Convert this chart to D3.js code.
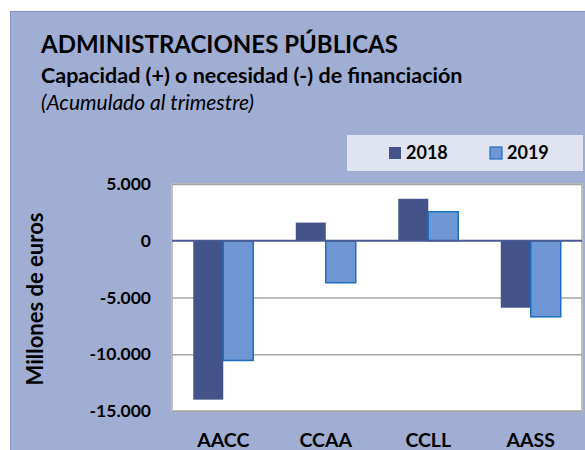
<!DOCTYPE html>
<html>
<head>
<meta charset="utf-8">
<script src="https://cdn.jsdelivr.net/npm/d3@7"></script>
<style>
  body { margin: 0; background: #ffffff; }
  svg { display: block; font-family: Lato, "Noto Sans", sans-serif; }
</style>
</head>
<body>
<svg id="chart" width="585" height="450"></svg>
<script>
// --------------------------------------------------------------------------------------
// data
// --------------------------------------------------------------------------------------
var categories = ["AACC", "CCAA", "CCLL", "AASS"];
var series_names = ["2018", "2019"];
var values_2018 = [-14000, 1600, 3700, -5900];
var values_2019 = [-10550, -3700, 2550, -6700];
var y_ticks = [5000, 0, -5000, -10000, -15000];
var y_tick_labels = ["5.000", "0", "-5.000", "-10.000", "-15.000"];

var title = "ADMINISTRACIONES PÚBLICAS";
var subtitle = "Capacidad (+) o necesidad (-) de financiación";
var note = "(Acumulado al trimestre)";
var y_title = "Millones de euros";

var colors = ["#44548a", "#6f97d4"];
// --------------------------------------------------------------------------------------

var svg = d3.select("#chart");

// outer frame
svg.append("rect")
   .attr("x", 10.5)
   .attr("y", 11.5)
   .attr("width", 590)
   .attr("height", 450)
   .style("fill", "#a0aed4")
   .style("stroke", "#8292c6")
   .style("stroke-width", 1);

// ==================================================
// titles
svg.append("text")
   .attr("x", 41)
   .attr("y", 53)
   .style("font-size", "24px")
   .style("font-weight", "bold")
   .style("fill", "#000")
   .text(title);

svg.append("text")
   .attr("x", 41)
   .attr("y", 83)
   .style("font-size", "21.5px")
   .style("font-weight", "bold")
   .style("fill", "#000")
   .text(subtitle);

svg.append("text")
   .attr("x", 41)
   .attr("y", 110)
   .style("font-size", "21px")
   .style("font-style", "italic")
   .style("fill", "#000")
   .text(note);

// ==================================================
// plot area
var margin = {top: 184, left: 172, right: 3, bottom: 39};
var width = 585 - margin.left - margin.right;
var height = 450 - margin.top - margin.bottom;

var x0 = d3.scaleBand()
           .domain(categories)
           .range([0, width])
           .paddingInner(0.415)
           .paddingOuter(0.2075);

var x1 = d3.scaleBand()
           .domain(series_names)
           .range([0, x0.bandwidth()])
           .padding(0);

var y = d3.scaleLinear()
          .domain([-15000, 5000])
          .range([height, 0]);

var g = svg.append("g")
           .attr("transform", "translate(" + margin.left + "," + margin.top + ")");

g.append("rect")
 .attr("x", 0)
 .attr("y", 0)
 .attr("width", width)
 .attr("height", height)
 .style("fill", "#ffffff")
 .style("stroke", "#bfbfbf")
 .style("stroke-width", 2);

// gridlines
g.append("g")
 .attr("class", "grid")
 .call(d3.axisLeft(y).tickValues(y_ticks.filter(function(d) { return d != 0; }))
         .tickSize(-width).tickFormat(""))
 .call(function(s) { s.select(".domain").remove(); })
 .selectAll("line")
 .style("stroke", "#a6a6a6")
 .style("stroke-width", 1.3);

// bars
var rows = categories.map(function(c, i) {
  return {cat: c, vals: [values_2018[i], values_2019[i]]};
});

var groups = g.selectAll(".bar")
              .data(rows)
              .enter()
              .append("g")
              .attr("class", "bar")
              .attr("transform", function(d) { return "translate(" + x0(d.cat) + ",0)"; });

groups.selectAll("rect")
      .data(function(d) { return d.vals.map(function(v, i) { return {s: series_names[i], v: v, i: i}; }); })
      .enter()
      .append("rect")
      .attr("x", function(d) { return x1(d.s); })
      .attr("width", x1.bandwidth())
      .attr("y", function(d) { return y(Math.max(0, d.v)); })
      .attr("height", function(d) { return Math.abs(y(d.v) - y(0)); })
      .style("fill", function(d) { return colors[d.i]; })
      .style("stroke", function(d) { return d.i == 1 ? "#1a6fc4" : "none"; })
      .style("stroke-width", 1.5);

// zero line
g.append("line")
 .attr("x1", 0)
 .attr("x2", width)
 .attr("y1", y(0))
 .attr("y2", y(0))
 .style("stroke", "#4a5a92")
 .style("stroke-width", 2);

// y axis labels
var y_axis = g.append("g")
              .call(d3.axisLeft(y).tickValues(y_ticks).tickSize(0).tickPadding(21)
                      .tickFormat(function(d, i) { return y_tick_labels[i]; }));
y_axis.select(".domain").remove();
y_axis.selectAll("text")
      .style("font-family", "Lato, sans-serif")
      .style("font-size", "17.5px")
      .style("font-weight", "bold")
      .style("fill", "#000");

// x axis labels
var x_axis = g.append("g")
              .attr("transform", "translate(0," + height + ")")
              .call(d3.axisBottom(x0).tickSize(0).tickPadding(22));
x_axis.select(".domain").remove();
x_axis.selectAll("text")
      .style("font-family", "Lato, sans-serif")
      .style("font-size", "19.5px")
      .style("font-weight", "bold")
      .style("fill", "#000");

// y title
svg.append("text")
   .attr("transform", "translate(43," + 299 + ") rotate(-90)")
   .attr("text-anchor", "middle")
   .style("font-size", "22px")
   .style("font-weight", "bold")
   .style("fill", "#000")
   .text(y_title);

// ==================================================
// legend
var legend = svg.append("g")
                .attr("transform", "translate(347,135)");

legend.append("rect")
      .attr("width", 236)
      .attr("height", 36)
      .style("fill", "#e0e3f0");

var items = legend.selectAll(".item")
                  .data(series_names)
                  .enter()
                  .append("g")
                  .attr("class", "item")
                  .attr("transform", function(d, i) { return "translate(" + (42 + i * 101) + ",12)"; });

items.append("rect")
     .attr("width", 12)
     .attr("height", 12)
     .style("fill", function(d, i) { return colors[i]; })
     .style("stroke", function(d, i) { return i == 1 ? "#1a6fc4" : "none"; })
     .style("stroke-width", 1.2);

items.append("text")
     .attr("x", 17)
     .attr("y", 12)
     .style("font-size", "18px")
     .style("font-weight", "bold")
     .style("fill", "#000")
     .text(function(d) { return d; });
</script>
</body>
</html>
